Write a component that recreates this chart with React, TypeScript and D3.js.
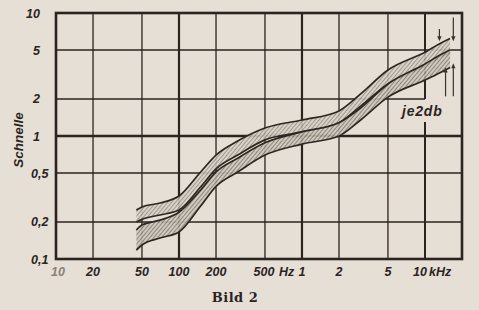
import React from 'react';
import * as d3 from 'd3';

// frequencies (Hz) at which the band edges were read
const freqs = [45, 50, 70, 100, 150, 200, 300, 500, 1000, 2000, 3000, 5000, 10000, 13500, 16000];

// band A: upper band at low frequencies
const bandAHi = [0.25, 0.265, 0.285, 0.325, 0.51, 0.7, 0.91, 1.16, 1.35, 1.6, 2.2, 3.44, 4.8, 5.7, 6.2];
const bandALo = [0.2, 0.21, 0.228, 0.25, 0.385, 0.54, 0.7, 0.93, 1.08, 1.28, 1.75, 2.65, 3.7, 4.4, 4.8];

// band B: lower band at low frequencies
const bandBHi = [0.172, 0.189, 0.207, 0.24, 0.364, 0.51, 0.66, 0.88, 1.08, 1.28, 1.69, 2.65, 3.85, 4.6, 5.0];
const bandBLo = [0.118, 0.13, 0.148, 0.166, 0.27, 0.39, 0.51, 0.7, 0.86, 1.0, 1.35, 2.07, 2.85, 3.3, 3.6];

const xGrid = [20, 50, 100, 200, 500, 1000, 2000, 5000, 10000];
const yGrid = [0.2, 0.5, 1, 2, 5];

const xTicks = [
  { f: 10, label: '10' },
  { f: 20, label: '20' },
  { f: 50, label: '50' },
  { f: 100, label: '100' },
  { f: 200, label: '200' },
  { f: 500, label: '500' },
  { f: 1000, label: '1' },
  { f: 2000, label: '2' },
  { f: 5000, label: '5' },
  { f: 10000, label: '10' },
];
const yTicks = [
  { v: 10, label: '10' },
  { v: 5, label: '5' },
  { v: 2, label: '2' },
  { v: 1, label: '1' },
  { v: 0.5, label: '0,5' },
  { v: 0.2, label: '0,2' },
  { v: 0.1, label: '0,1' },
];

// 2 dB markers near the right edge (frequency, from value, to value)
const downArrows = [
  { f: 13100, from: 7.4, to: 5.9 },
  { f: 17000, from: 9.2, to: 5.9 },
];
const upArrows = [
  { f: 14700, from: 2.1, to: 3.6 },
  { f: 17000, from: 2.1, to: 3.9 },
];

const W = 479;
const H = 310;
const ink = '#2b241f';
const paper = '#e6dfd5';
const tickFont = "'Liberation Sans', Arial, sans-serif";

export default function App() {
  const x = d3.scaleLog().domain([10, 20000]).range([56, 462]);
  const y = d3.scaleLog().domain([0.1, 10]).range([259, 13]);

  const area = (hi: number[], lo: number[]) =>
    d3.area<number>()
      .x((_, i) => x(freqs[i]))
      .y0((_, i) => y(lo[i]))
      .y1((_, i) => y(hi[i]))
      .curve(d3.curveMonotoneX)(freqs) as string;

  const edge = (vals: number[]) =>
    d3.line<number>()
      .x((_, i) => x(freqs[i]))
      .y((_, i) => y(vals[i]))
      .curve(d3.curveMonotoneX)(freqs) as string;

  const bands = [
    { hi: bandAHi, lo: bandALo, fill: 'url(#hatchA)' },
    { hi: bandBHi, lo: bandBLo, fill: 'url(#hatchB)' },
  ];

  const x10k = x(10000);
  const y2 = y(2);

  return (
    <svg width={W} height={H} style={{ position: 'absolute', left: 0, top: 0, background: paper }}>
      <defs>
        <pattern id="hatchA" width="3" height="3" patternUnits="userSpaceOnUse" patternTransform="rotate(40)">
          <rect width="3" height="3" fill="#d8d1c6" />
          <line x1="0" y1="0" x2="0" y2="3" stroke="#5a5249" strokeWidth="1" />
        </pattern>
        <pattern id="hatchB" width="3" height="3" patternUnits="userSpaceOnUse" patternTransform="rotate(40)">
          <rect width="3" height="3" fill="#cec7bc" />
          <line x1="0" y1="0" x2="0" y2="3" stroke="#453d36" strokeWidth="1.1" />
        </pattern>
      </defs>
      <rect width={W} height={H} fill={paper} />

      {/* grid */}
      {yGrid.map(v => (
        <line key={'h' + v} x1={x(10)} x2={v === 2 ? x10k : x(20000)} y1={y(v)} y2={y(v)}
          stroke={ink} strokeWidth={v === 1 ? 2.6 : 1.6} />
      ))}
      {xGrid.map(f => {
        const thick = f === 100 || f === 1000 || f === 10000;
        if (f === 10000) {
          return (
            <g key={'v' + f}>
              <line x1={x(f)} x2={x(f)} y1={y(10)} y2={y2} stroke={ink} strokeWidth={2} />
              <line x1={x(f)} x2={x(f)} y1={y2 + 23} y2={y(0.1)} stroke={ink} strokeWidth={2} />
            </g>
          );
        }
        return (
          <line key={'v' + f} x1={x(f)} x2={x(f)} y1={y(10)} y2={y(0.1)}
            stroke={ink} strokeWidth={thick ? 2.2 : 1.3} />
        );
      })}
      <rect x={x(10)} y={y(10)} width={x(20000) - x(10)} height={y(0.1) - y(10)}
        fill="none" stroke={ink} strokeWidth={2.6} />

      {/* bands */}
      {bands.map((b, i) => (
        <g key={'b' + i}>
          <path d={area(b.hi, b.lo)} fill={b.fill} opacity={0.9} />
          <path d={edge(b.hi)} fill="none" stroke="#2e2823" strokeWidth={1.7} />
          <path d={edge(b.lo)} fill="none" stroke="#2e2823" strokeWidth={1.7} />
        </g>
      ))}

      {/* 2 dB markers */}
      <g stroke="#3a332d" strokeWidth={1.2} fill="#3a332d">
        {downArrows.map((a, i) => {
          const ax = x(a.f);
          const ay = y(a.to);
          return (
            <g key={'da' + i}>
              <line x1={ax} x2={ax} y1={y(a.from)} y2={ay - 3} />
              <path d={`M${ax - 2.2},${ay - 5} L${ax + 2.2},${ay - 5} L${ax},${ay} Z`} stroke="none" />
            </g>
          );
        })}
        {upArrows.map((a, i) => {
          const ax = x(a.f);
          const ay = y(a.to);
          return (
            <g key={'ua' + i}>
              <line x1={ax} x2={ax} y1={y(a.from)} y2={ay + 3} />
              <path d={`M${ax - 2.2},${ay + 5} L${ax + 2.2},${ay + 5} L${ax},${ay} Z`} stroke="none" />
            </g>
          );
        })}
      </g>
      <text x={402} y={116} fontFamily={tickFont} fontStyle="italic" fontWeight="bold" fontSize={14}
        fill={ink} letterSpacing={0.8}>je2db</text>

      {/* y tick labels */}
      {yTicks.map(t => {
        const dec = t.label.includes(',');
        return (
          <text key={'yt' + t.v} x={dec ? 31 : 40} y={y(t.v)} dy="0.36em" textAnchor={dec ? 'start' : 'end'}
            fontFamily={tickFont} fontStyle="italic" fontWeight="bold" fontSize={12.5} fill={ink}>
            {t.label}
          </text>
        );
      })}
      <text transform={`translate(23,140) rotate(-90)`} textAnchor="middle" fontFamily={tickFont}
        fontStyle="italic" fontWeight="bold" fontSize={13.5} fill={ink}>Schnelle</text>

      {/* x tick labels */}
      {xTicks.map((t, i) => (
        <text key={'xt' + i} x={x(t.f) + (t.f === 10 ? 2 : t.f === 500 ? -1 : t.f === 10000 ? -5 : 0)} y={276}
          textAnchor="middle" fontFamily={tickFont} fontStyle="italic" fontWeight="bold" fontSize={12.5}
          fill={t.f === 10 ? '#8a827a' : ink}>
          {t.label}
        </text>
      ))}
      <text x={x(500) + 14} y={276} fontFamily={tickFont} fontStyle="italic" fontWeight="bold" fontSize={12.5} fill={ink}>Hz</text>
      <text x={x(10000) + 4} y={276} fontFamily={tickFont} fontStyle="italic" fontWeight="bold" fontSize={12.5} fill={ink}>kHz</text>

      <text x={235} y={302} textAnchor="middle" fontFamily="'DejaVu Serif', serif" fontWeight="bold"
        fontSize={13} fill={ink} letterSpacing={0.5}>Bild 2</text>
    </svg>
  );
}
